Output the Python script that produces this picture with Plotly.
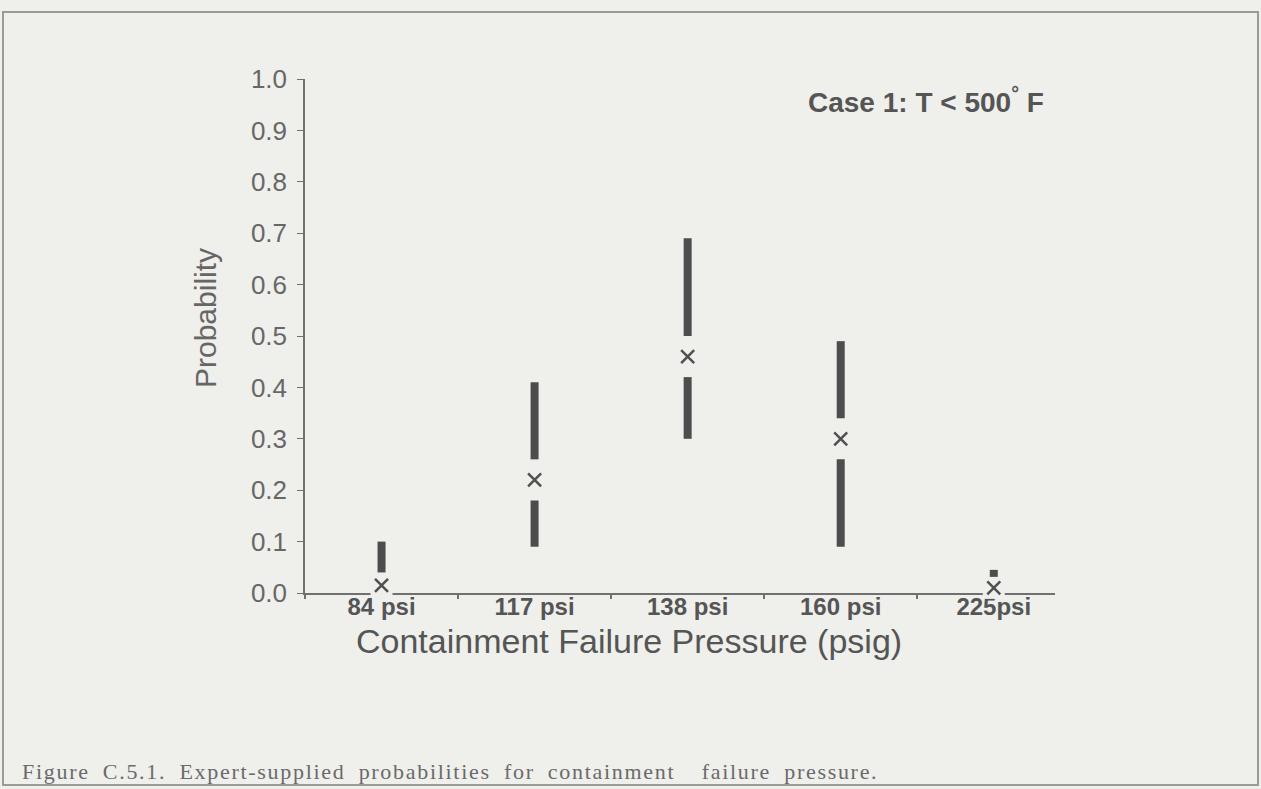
import plotly.graph_objects as go

# ---- data ----
categories = ["84 psi", "117 psi", "138 psi", "160 psi", "225psi"]
prob_low = [0.04, 0.09, 0.30, 0.09, 0.03]      # bottom of range bar
prob_high = [0.10, 0.41, 0.69, 0.49, 0.045]    # top of range bar
prob_point = [0.015, 0.22, 0.46, 0.30, 0.01]   # "X" marker value
y_ticks = [0.0, 0.1, 0.2, 0.3, 0.4, 0.5, 0.6, 0.7, 0.8, 0.9, 1.0]

BG = "#efefec"
BAR = "#4d4d4d"
TXT = "#5a5a5a"
GAP = 0.04  # visual break of the bar around the X marker

# build bar segments (split around the marker when the marker lies inside the bar)
seg_x, seg_y = [], []
for c, lo, hi, p in zip(categories, prob_low, prob_high, prob_point):
    if p - GAP > lo:
        seg_x += [c, c, None, c, c, None]
        seg_y += [lo, p - GAP, None, p + GAP, hi, None]
    else:
        seg_x += [c, c, None]
        seg_y += [lo, hi, None]

fig = go.Figure()
fig.add_trace(go.Scatter(
    x=seg_x, y=seg_y, mode="lines",
    line=dict(color=BAR, width=8), connectgaps=False,
    hoverinfo="skip", showlegend=False, cliponaxis=False))
# background patch behind the X (breaks the axis line)
fig.add_trace(go.Scatter(
    x=categories, y=prob_point, mode="markers",
    marker=dict(symbol="square", size=22, color=BG, line=dict(width=0)),
    hoverinfo="skip", showlegend=False, cliponaxis=False))
fig.add_trace(go.Scatter(
    x=categories, y=prob_point, mode="markers",
    marker=dict(symbol="x-thin", size=13, line=dict(color="#505050", width=2.5)),
    showlegend=False, cliponaxis=False))

L, R, T, B = 305, 1261 - 1055, 79, 789 - 593
W, H = 1261 - L - R, 789 - T - B

def px(xp):
    return (xp - L) / W

def py(yp):
    return (789 - B - yp) / H

fig.update_layout(
    width=1261, height=789,
    margin=dict(l=L, r=R, t=T, b=B),
    paper_bgcolor=BG, plot_bgcolor=BG,
    font=dict(family="Liberation Sans, Arial, sans-serif", color=TXT),
    xaxis=dict(
        type="category", categoryorder="array", categoryarray=categories,
        range=[-0.5, 4.4], tickson="boundaries",
        showline=True, linecolor="#707070", linewidth=1.5,
        ticks="outside", ticklen=4, tickcolor="#707070", tickwidth=1.5,
        showgrid=False, zeroline=False, layer="below traces",
        tickfont=dict(size=24, color="#555555", family="Liberation Sans, Arial, sans-serif", weight="bold"),
        ticklabelstandoff=-9,
    ),
    yaxis=dict(
        range=[0, 1.0], tickmode="array", tickvals=y_ticks,
        ticktext=[f"{v:.1f}" for v in y_ticks],
        showline=True, linecolor="#707070", linewidth=1.5,
        ticks="outside", ticklen=6, tickcolor="#707070", tickwidth=1.2,
        showgrid=False, zeroline=False, layer="below traces",
        tickfont=dict(size=26, color="#676767"),
        ticklabelstandoff=5,
    ),
    shapes=[dict(type="rect", xref="paper", yref="paper",
                 x0=px(3), x1=px(1258), y0=py(785), y1=py(12),
                 line=dict(color="#9a9a9a", width=2), fillcolor="rgba(0,0,0,0)",
                 layer="below")],
    annotations=[
        dict(text="Probability", xref="paper", yref="paper", x=px(205), y=py(318),
             textangle=-90, showarrow=False, font=dict(size=30, color="#666666"),
             xanchor="center", yanchor="middle"),
        dict(text="Containment Failure Pressure (psig)", xref="paper", yref="paper",
             x=px(629), y=py(641), showarrow=False,
             font=dict(size=34, color="#555555"), xanchor="center", yanchor="middle"),
        dict(text="<b>Case 1: T &lt; 500<sup>°</sup> F</b>", xref="paper", yref="paper",
             x=px(1046), y=py(100), showarrow=False,
             font=dict(size=28, color="#555555"), xanchor="right", yanchor="middle"),
        dict(text="<span style='letter-spacing:1.7px;word-spacing:6px'>Figure C.5.1. Expert-supplied probabilities for containment  failure pressure.</span>",
             xref="paper", yref="paper", x=px(20), y=py(771), showarrow=False,
             font=dict(size=22, color="#6a6a6a", family="Liberation Serif, Times New Roman, serif"),
             xanchor="left", yanchor="middle"),
    ],
)

fig.write_html("out.html")
